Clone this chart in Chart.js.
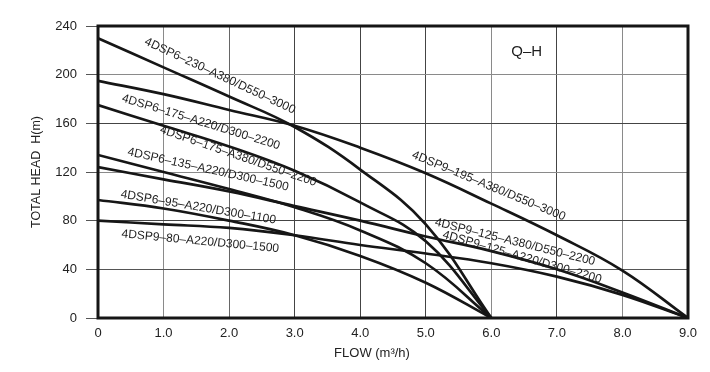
<!DOCTYPE html>
<html>
<head>
<meta charset="utf-8">
<script src="https://cdn.jsdelivr.net/npm/chart.js@4"></script>
<style>
  html, body { margin: 0; padding: 0; background: #fff; }
  canvas { display: block; }
</style>
</head>
<body>
<canvas id="c" width="710" height="372"></canvas>
<script>
// ---- data ----
const flow6 = [0, 1, 2, 3, 4, 5, 6];
const flow9 = [0, 1, 2, 3, 4, 5, 6, 7, 8, 9];

const head230 = [230, 206, 182, 157, 122, 77, 0];
const head175 = [175, 158, 141, 121, 95, 63, 0];
const head135 = [134, 120, 106, 91, 72, 45, 0];
const head95  = [97, 90, 80, 68, 51, 29, 0];

const head195 = [195, 184, 171, 158, 140, 119, 94, 68, 39, 0];
const head125 = [124, 114, 104, 92, 80, 67, 55, 40, 21, 0];
const head80  = [80, 77, 74, 68, 60, 53, 45, 34, 19, 0];

const xTicks = [0, 1, 2, 3, 4, 5, 6, 7, 8, 9];
const yTicks = [0, 40, 80, 120, 160, 200, 240];

const curveNames = [
  '4DSP6–230–A380/D550–3000',
  '4DSP6–175–A220/D300–2200',
  '4DSP6–175–A380/D550–2200',
  '4DSP6–135–A220/D300–1500',
  '4DSP6–95–A220/D300–1100',
  '4DSP9–80–A220/D300–1500',
  '4DSP9–195–A380/D550–3000',
  '4DSP9–125–A380/D550–2200',
  '4DSP9–125–A220/D300–2200'
];
const chartTitle = 'Q–H';
const xTitle = 'FLOW (m³/h)';
const yTitle = 'TOTAL HEAD  H(m)';

// ---- build ----
function pts(xs, ys) { return xs.map((x, i) => ({ x: x, y: ys[i] })); }

const curves = [
  { name: curveNames[0], data: pts(flow6, head230) },
  { name: curveNames[6], data: pts(flow9, head195) },
  { name: curveNames[1], data: pts(flow6, head175) },
  { name: curveNames[3], data: pts(flow6, head135) },
  { name: curveNames[7], data: pts(flow9, head125) },
  { name: curveNames[4], data: pts(flow6, head95) },
  { name: curveNames[5], data: pts(flow9, head80) }
];

const labelAnchors = [
  { t: curveNames[0], x: 1.86, y: 199, a: 25 },
  { t: curveNames[1], x: 1.57, y: 161, a: 17 },
  { t: curveNames[2], x: 2.14, y: 133, a: 19 },
  { t: curveNames[3], x: 1.68, y: 122, a: 12.5 },
  { t: curveNames[4], x: 1.53, y: 91, a: 9.6 },
  { t: curveNames[5], x: 1.56, y: 63, a: 5.4 },
  { t: curveNames[6], x: 5.96, y: 108.5, a: 22.5 },
  { t: curveNames[7], x: 6.36, y: 62.5, a: 14 },
  { t: curveNames[8], x: 6.47, y: 50, a: 16 }
];

const FONT = '"Liberation Sans", Arial, sans-serif';

const decor = {
  id: 'decor',
  afterDatasetsDraw(chart) {
    const ctx = chart.ctx;
    const xs = chart.scales.x, ys = chart.scales.y;
    const a = chart.chartArea;
    ctx.save();
    // frame
    ctx.strokeStyle = '#151515';
    ctx.lineWidth = 3;
    ctx.strokeRect(a.left, a.top, a.right - a.left, a.bottom - a.top);
    // curve labels
    ctx.fillStyle = '#1e1e1e';
    ctx.font = '12px ' + FONT;
    ctx.textAlign = 'center';
    ctx.textBaseline = 'middle';
    labelAnchors.forEach(l => {
      ctx.save();
      ctx.translate(xs.getPixelForValue(l.x), ys.getPixelForValue(l.y));
      ctx.rotate(l.a * Math.PI / 180);
      ctx.fillText(l.t, 0, 0);
      ctx.restore();
    });
    // Q-H
    ctx.font = '15px ' + FONT;
    ctx.fillText(chartTitle, xs.getPixelForValue(6.54), ys.getPixelForValue(218.6));
    // x title
    ctx.fillStyle = '#222';
    ctx.font = '13px ' + FONT;
    ctx.fillText(xTitle, xs.getPixelForValue(4.18), a.bottom + 35);
    // y title
    ctx.save();
    ctx.translate(37, (a.top + a.bottom) / 2);
    ctx.rotate(-Math.PI / 2);
    ctx.font = '12.5px ' + FONT;
    ctx.fillText(yTitle, 0, 0);
    ctx.restore();
    ctx.restore();
  }
};

const xGridColors = ['#000', '#8a8a8a', '#666', '#444', '#444', '#444', '#8a8a8a', '#444', '#8a8a8a', '#000'];
const yGridColors = ['#000', '#555', '#444', '#8a8a8a', '#444', '#8a8a8a', '#000'];

new Chart(document.getElementById('c'), {
  type: 'line',
  data: {
    datasets: curves.map(c => ({
      label: c.name,
      data: c.data,
      borderColor: '#161616',
      borderWidth: 2.7,
      pointRadius: 0,
      fill: false,
      tension: 0.4
    }))
  },
  options: {
    responsive: false,
    animation: false,
    devicePixelRatio: 1,
    layout: { padding: { left: 0, top: 26, right: 22, bottom: 0 } },
    plugins: { legend: { display: false }, tooltip: { enabled: false } },
    scales: {
      x: {
        type: 'linear', min: 0, max: 9,
        afterBuildTicks: s => { s.ticks = xTicks.map(v => ({ value: v })); },
        afterFit: s => { s.height = 54; },
        border: { display: false },
        grid: {
          drawTicks: false,
          lineWidth: 1,
          color: c => xGridColors[c.index] || '#555'
        },
        ticks: {
          padding: 8,
          color: '#222',
          font: { family: FONT, size: 13 },
          callback: v => v === 0 ? '0' : v.toFixed(1)
        }
      },
      y: {
        type: 'linear', min: 0, max: 240,
        afterBuildTicks: s => { s.ticks = yTicks.map(v => ({ value: v })); },
        afterFit: s => { s.width = 98; },
        border: { display: false },
        grid: {
          drawTicks: true,
          tickLength: 12,
          lineWidth: 1,
          color: c => yGridColors[c.index] || '#555',
          tickColor: '#555'
        },
        ticks: {
          padding: 9,
          color: '#222',
          font: { family: FONT, size: 13 },
          callback: v => String(v)
        }
      }
    }
  },
  plugins: [decor]
});
</script>
</body>
</html>
